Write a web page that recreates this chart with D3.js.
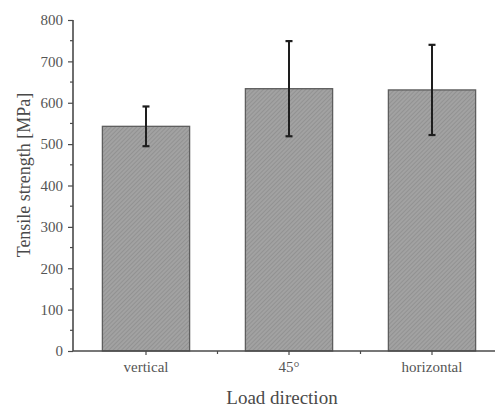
<!DOCTYPE html>
<html><head><meta charset="utf-8">
<script src="https://cdn.jsdelivr.net/npm/d3@7"></script>
<style>body{margin:0;background:#fff}svg{display:block}</style>
</head><body>
<script>
const categories = ["vertical", "45°", "horizontal"];
const values = [543, 634, 631];
const errors = [48, 115, 109];
const yTicks = [0, 100, 200, 300, 400, 500, 600, 700, 800];

const W = 495, H = 411;
const m = {left: 73, top: 20, bottom: 60};
const plotBottom = 351;
const svg = d3.select("body").append("svg").attr("width", W).attr("height", H);

const defs = svg.append("defs");
const pat = defs.append("pattern").attr("id", "hatch").attr("patternUnits", "userSpaceOnUse")
  .attr("width", 3).attr("height", 3).attr("patternTransform", "rotate(45)");
pat.append("rect").attr("width", 3).attr("height", 3).attr("fill", "#a2a2a2");
pat.append("line").attr("x1", 0).attr("y1", 0).attr("x2", 0).attr("y2", 3)
  .attr("stroke", "#848484").attr("stroke-width", 1.1);

const x = d3.scaleBand().domain(categories).range([74.5, 503.5]).paddingInner(0.39).paddingOuter(0.195);
const y = d3.scaleLinear().domain([0, 800]).range([plotBottom, m.top]);

const axisColor = "#4a4a4a";
const font = "'Liberation Serif', 'Times New Roman', serif";

// bars
svg.selectAll("rect.bar").data(values).join("rect").attr("class", "bar")
  .attr("x", (d, i) => x(categories[i]))
  .attr("width", x.bandwidth())
  .attr("y", d => y(d))
  .attr("height", d => y(0) - y(d))
  .attr("fill", "url(#hatch)")
  .attr("stroke", "#5e5e5e").attr("stroke-width", 1.3);

// error bars
const eb = svg.append("g");
values.forEach((v, i) => {
  const cx = x(categories[i]) + x.bandwidth() / 2;
  eb.append("line").attr("x1", cx).attr("x2", cx).attr("y1", y(v + errors[i])).attr("y2", y(v - errors[i]))
    .attr("stroke", "#1e1e1e").attr("stroke-width", 2);
  [v + errors[i], v - errors[i]].forEach(e => {
    eb.append("line").attr("x1", cx - 3.5).attr("x2", cx + 3.5).attr("y1", y(e)).attr("y2", y(e))
      .attr("stroke", "#1e1e1e").attr("stroke-width", 2.2);
  });
});

// y axis
const yMinor = d3.range(50, 800, 100);
const ya = svg.append("g").attr("transform", `translate(${m.left},0)`);
ya.call(d3.axisLeft(y).tickValues(yTicks).tickSize(5).tickPadding(5));
ya.selectAll("line.minor").data(yMinor).join("line").attr("class", "minor")
  .attr("x1", -3).attr("x2", 0).attr("y1", d => y(d)).attr("y2", d => y(d))
  .attr("stroke", axisColor).attr("stroke-width", 1.2);
ya.select(".domain").attr("d", `M0,${y(800)}V${y(0)}`);

// x axis
const xa = svg.append("g").attr("transform", `translate(0,${plotBottom})`);
xa.call(d3.axisBottom(x).tickSize(4).tickPadding(6));
xa.select(".domain").attr("d", `M${m.left},0H${W}`);
const step = x.step();
xa.selectAll("line.minor").data(categories.slice(0, 2)).join("line").attr("class", "minor")
  .attr("x1", d => x(d) + x.bandwidth() / 2 + step / 2).attr("x2", d => x(d) + x.bandwidth() / 2 + step / 2)
  .attr("y1", 0).attr("y2", 3).attr("stroke", axisColor).attr("stroke-width", 1.2);

[ya, xa].forEach(a => {
  a.selectAll(".domain").attr("stroke", axisColor).attr("stroke-width", 1.6);
  a.selectAll(".tick line").attr("stroke", axisColor).attr("stroke-width", 1.2);
  a.selectAll(".tick text").attr("fill", "#555").style("font-family", font).style("font-size", "15px");
});

// axis titles
svg.append("text").attr("x", 282).attr("y", 404).attr("text-anchor", "middle")
  .style("font-family", font).style("font-size", "19px").attr("fill", "#4a4a4a").text("Load direction");
svg.append("text").attr("transform", `translate(30,${175}) rotate(-90)`).attr("text-anchor", "middle")
  .style("font-family", font).style("font-size", "18px").attr("fill", "#4a4a4a").text("Tensile strength [MPa]");
</script>
</body></html>
